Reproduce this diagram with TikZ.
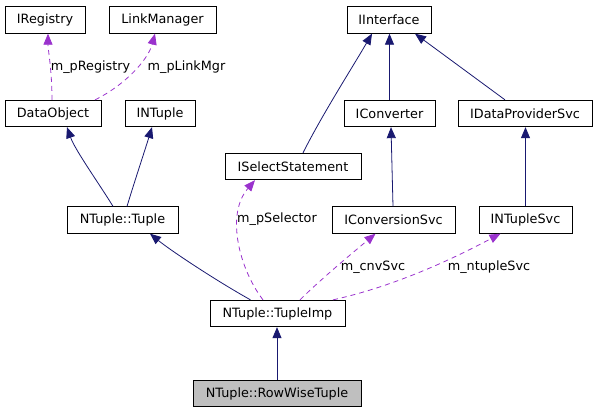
\documentclass[tikz,border=0pt]{standalone}
\usepackage{fontspec}
\setmainfont{DejaVu Sans}
\usetikzlibrary{arrows.meta}
\definecolor{navy}{RGB}{25,25,112}
\definecolor{orchid}{RGB}{154,50,205}
\definecolor{grayfill}{RGB}{191,191,191}
\begin{document}
\begin{tikzpicture}[x=1pt,y=-1pt,
  box/.style={draw=black,line width=0.8pt,minimum height=26.5pt,inner sep=0pt,
    font=\fontsize{12.8}{14}\selectfont,anchor=center},
  inh/.style={draw=navy,line width=0.8pt,-{Triangle[length=11pt,width=9pt]}},
  use/.style={draw=orchid,line width=0.8pt,dash pattern=on 5pt off 4pt,-{Triangle[length=11pt,width=9pt]}},
  lbl/.style={font=\fontsize{12.8}{14}\selectfont,inner sep=0pt,anchor=center}]
\useasboundingbox (0,0) rectangle (597,413);
% nodes
\node[box,minimum width=80pt] (ireg) at (45,20) {IRegistry};
\node[box,minimum width=107pt] (lmgr) at (162.5,20) {LinkManager};
\node[box,minimum width=96pt] (dobj) at (53,113.5) {DataObject};
\node[box,minimum width=70pt] (intuple) at (160,113.5) {INTuple};
\node[box,minimum width=84pt] (iint) at (389,20) {IInterface};
\node[box,minimum width=91pt] (iconv) at (389.5,113.5) {IConverter};
\node[box,minimum width=134pt] (idps) at (525,113.5) {IDataProviderSvc};
\node[box,minimum width=136pt] (isel) at (293,166.5) {ISelectStatement};
\node[box,minimum width=111pt] (tuple) at (122.5,220) {NTuple::Tuple};
\node[box,minimum width=123pt] (icnvsvc) at (393.5,220) {IConversionSvc};
\node[box,minimum width=93pt] (intsvc) at (525.5,220) {INTupleSvc};
\node[box,minimum width=135pt] (timp) at (277.5,313.5) {NTuple::TupleImp};
\node[box,minimum width=168pt,fill=grayfill] (rwt) at (277,393.5) {NTuple::RowWiseTuple};
% labels
\node[lbl] (l1) at (90.5,67) {m\_pRegistry};
\node[lbl] (l2) at (186.5,67) {m\_pLinkMgr};
\node[lbl] (l3) at (277,219) {m\_pSelector};
\node[lbl] (l4) at (373,267) {m\_cnvSvc};
\node[lbl] (l5) at (489,267) {m\_ntupleSvc};
% inheritance edges
\draw[inh] ([xshift=-9.5pt]tuple.north) .. controls (100,185) and (75,150) .. ([xshift=14pt]dobj.south);
\draw[inh] ([xshift=4.5pt]tuple.north) .. controls (135,180) and (145,150) .. ([xshift=-8pt]intuple.south);
\draw[inh] ([xshift=10pt]isel.north) .. controls (322,115) and (352,68) .. ([xshift=-17pt]iint.south);
\draw[inh] (iconv.north) -- ([xshift=0.5pt]iint.south);
\draw[inh] ([xshift=-20pt]idps.north) -- ([xshift=26pt]iint.south);
\draw[inh] ([xshift=-0.5pt]icnvsvc.north) -- ([xshift=1.5pt]iconv.south);
\draw[inh] (intsvc.north) -- ([xshift=0.5pt]idps.south);
\draw[inh] ([xshift=-27pt]timp.north) .. controls (215,280) and (170,250) .. ([xshift=27.5pt]tuple.south);
\draw[inh] (rwt.north) -- ([xshift=-0.5pt]timp.south);
% usage edges
\draw[use] ([xshift=-1pt]dobj.north) .. controls (52,70) and (48,50) .. ([xshift=3pt]ireg.south);
\draw[use] ([xshift=42pt]dobj.north) .. controls (125,85) and (148,60) .. ([xshift=-7.5pt]lmgr.south);
\draw[use] ([xshift=-14.5pt]timp.north) .. controls (240,270) and (225,215) .. ([xshift=-38pt]isel.south);
\draw[use] ([xshift=22.5pt]timp.north) .. controls (320,280) and (350,255) .. ([xshift=-18pt]icnvsvc.south);
\draw[use] ([xshift=55.5pt]timp.north) .. controls (400,285) and (460,255) .. ([xshift=-25pt]intsvc.south);
\end{tikzpicture}
\end{document}
